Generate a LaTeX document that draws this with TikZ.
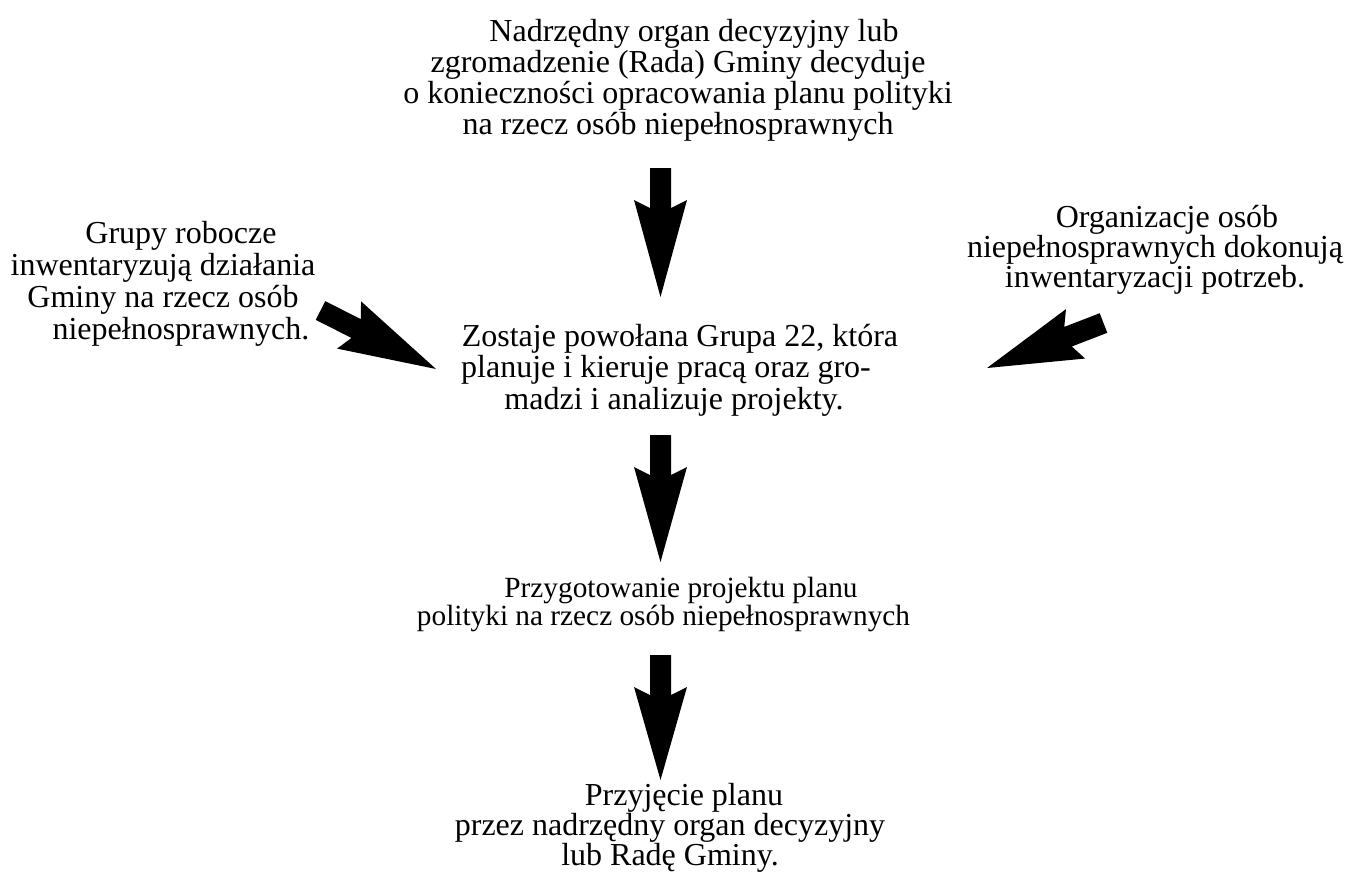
\documentclass[tikz,border=0pt]{standalone}
\usepackage{fontspec}
\setmainfont{Liberation Serif}
\usetikzlibrary{calc}
\newcommand\blockarrow[3]{%
  \fill[arrowfill] ($(#1)!10.5pt!90:(#2)$)
    -- ($($(#1)!#3+8pt!(#2)$)!10.5pt!90:(#2)$)
    -- ($($(#1)!#3!(#2)$)!26.5pt!90:(#2)$)
    -- (#2)
    -- ($($(#1)!#3!(#2)$)!26.5pt!-90:(#2)$)
    -- ($($(#1)!#3+8pt!(#2)$)!10.5pt!-90:(#2)$)
    -- ($(#1)!10.5pt!-90:(#2)$) -- cycle;}
\tikzset{
  arrowfill/.style={fill=black},
  txt/.style={align=center, inner sep=0pt, anchor=north, font=\fontsize{32}{31}\selectfont},
  txtsmall/.style={txt, font=\fontsize{29.3}{28}\selectfont},
}
\begin{document}
\begin{tikzpicture}[x=1pt,y=-1pt]
\useasboundingbox[fill=white] (0,0) rectangle (1348,876);
\node[txt] (top) at (678,19) {\hspace*{32pt}Nadrzędny organ decyzyjny lub\\zgromadzenie (Rada) Gminy decyduje\\o konieczności opracowania planu polityki\\na rzecz osób niepełnosprawnych};
\node[txt, font=\fontsize{32}{32}\selectfont] (left) at (163,221) {\hspace*{36pt}Grupy robocze\\inwentaryzują działania\\Gminy na rzecz osób\\\hspace*{36pt}niepełnosprawnych.};
\node[txt, font=\fontsize{32}{30}\selectfont] (right) at (1155,205) {\hspace*{24pt}Organizacje osób\\niepełnosprawnych dokonują\\inwentaryzacji potrzeb.};
\node[txt, font=\fontsize{32}{31.5}\selectfont] (center) at (666,324) {\hspace*{28pt}Zostaje powołana Grupa 22, która\\planuje i kieruje pracą oraz gro-\\\hspace*{16pt}madzi i analizuje projekty.};
\node[txtsmall] (draft) at (663.5,577) {\hspace*{35pt}Przygotowanie projektu planu\\polityki na rzecz osób niepełnosprawnych};
\node[txt, font=\fontsize{32}{29}\selectfont] (adopt) at (670,783) {\hspace*{28pt}Przyjęcie planu\\przez nadrzędny organ decyzyjny\\lub Radę Gminy.};
\coordinate (a1s) at (660.5,168);
\coordinate (a1e) at (660.5,297);
\coordinate (a2s) at (660.5,435);
\coordinate (a2e) at (660.5,562);
\coordinate (a3s) at (660.5,655);
\coordinate (a3e) at (660.5,780);
\coordinate (a4s) at (320.5,310.5);
\coordinate (a4e) at (436,369);
\coordinate (a5s) at (1103.5,323);
\coordinate (a5e) at (987,368);
\blockarrow{a1s}{a1e}{32pt}
\blockarrow{a2s}{a2e}{32pt}
\blockarrow{a3s}{a3e}{32pt}
\blockarrow{a4s}{a4e}{32pt}
\blockarrow{a5s}{a5e}{30pt}
\end{tikzpicture}
\end{document}
